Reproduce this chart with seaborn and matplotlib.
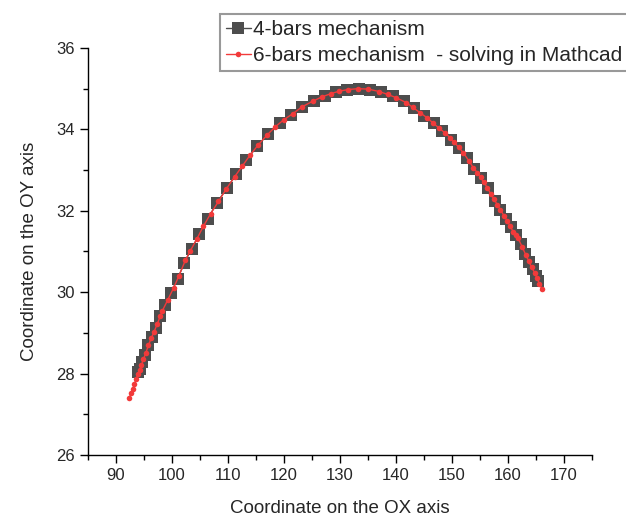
import matplotlib
matplotlib.use("Agg")
import matplotlib.pyplot as plt
from matplotlib.ticker import MultipleLocator
import seaborn as sns
import pandas as pd

# 4-bars mechanism (squares)
x4 = [94.0, 94.3, 94.7, 95.2, 95.8, 96.4, 97.1, 97.9, 98.8, 99.8, 101.0, 102.2,
      103.5, 104.9, 106.4, 108.0, 109.8, 111.5, 113.3, 115.2, 117.2, 119.2, 121.2,
      123.2, 125.3, 127.3, 129.3, 131.3, 133.4, 135.4, 137.4, 139.4, 141.4, 143.2,
      145.0, 146.7, 148.3, 149.9, 151.3, 152.7, 154.0, 155.2, 156.4, 157.6, 158.6,
      159.6, 160.5, 161.4, 162.3, 163.1, 163.8, 164.4, 165.0, 165.4]
y4 = [28.03, 28.12, 28.28, 28.46, 28.70, 28.90, 29.13, 29.41, 29.69, 29.99, 30.33, 30.72,
      31.07, 31.43, 31.81, 32.19, 32.56, 32.90, 33.24, 33.59, 33.89, 34.15, 34.35,
      34.55, 34.70, 34.83, 34.92, 34.98, 35.0, 34.98, 34.91, 34.81, 34.69, 34.52,
      34.34, 34.15, 33.96, 33.75, 33.54, 33.29, 33.03, 32.80, 32.55, 32.25, 32.03,
      31.81, 31.59, 31.41, 31.18, 30.94, 30.74, 30.56, 30.40, 30.28]

# 6-bars mechanism - solving in Mathcad (red dots)
x6 = [92.4, 92.7, 93.0, 93.3, 93.6, 93.9, 94.2, 94.5, 94.9, 95.3, 95.8, 96.3, 96.8,
      97.4, 97.9, 98.3, 99.2, 100.3, 101.2, 102.4, 103.2, 104.4, 105.6, 106.9, 108.3,
      109.7, 111.2, 112.5, 113.9, 115.4, 116.9, 118.4, 120.0, 121.6, 123.3, 125.1,
      126.8, 128.4, 129.9, 131.5, 133.2, 135.0, 137.0, 138.5, 140.0, 141.8, 143.0,
      144.3, 145.5, 146.6, 147.7, 148.8, 149.6, 150.4, 151.2, 152.0, 153.0, 153.8,
      154.5, 155.1, 155.7, 156.3, 156.9, 157.5, 158.1, 158.6, 159.3, 159.9, 160.4,
      160.9, 161.4, 161.8, 162.5, 163.2, 163.7, 164.2, 164.8, 165.2, 165.6, 166.0]
y6 = [27.41, 27.52, 27.63, 27.75, 27.87, 27.98, 28.08, 28.2, 28.35, 28.5, 28.70, 28.87,
      29.03, 29.23, 29.41, 29.55, 29.80, 30.11, 30.39, 30.79, 31.0, 31.30, 31.62, 31.93,
      32.23, 32.54, 32.84, 33.09, 33.36, 33.62, 33.85, 34.06, 34.24, 34.39, 34.56,
      34.69, 34.80, 34.88, 34.94, 34.98, 35.0, 34.99, 34.93, 34.86, 34.78, 34.66,
      34.54, 34.41, 34.29, 34.16, 34.03, 33.91, 33.80, 33.68, 33.56, 33.43, 33.23,
      33.06, 32.94, 32.82, 32.70, 32.57, 32.42, 32.28, 32.15, 32.03, 31.88, 31.74,
      31.62, 31.49, 31.41, 31.33, 31.12, 30.91, 30.77, 30.62, 30.47, 30.34, 30.21, 30.09]

label4 = "4-bars mechanism"
label6 = "6-bars mechanism  - solving in Mathcad"

sns.set_style("ticks")
plt.rcParams["font.family"] = ["Liberation Sans", "DejaVu Sans"]

fig = plt.figure(figsize=(6.26, 5.16), dpi=100)
ax = fig.add_axes([0.1406, 0.1182, 0.8051, 0.7888])

df4 = pd.DataFrame({"x": x4, "y": y4})
df6 = pd.DataFrame({"x": x6, "y": y6})

sns.lineplot(data=df4, x="x", y="y", sort=False, ax=ax, color="#4d4d4d",
             marker="s", markersize=8.5, markeredgewidth=0, linewidth=1.0,
             label=label4)
sns.lineplot(data=df6, x="x", y="y", sort=False, ax=ax, color="#f23a3a",
             marker="o", markersize=4, markeredgewidth=0, linewidth=1.0,
             label=label6)

ax.set_xlim(85, 175)
ax.set_ylim(26, 36)
ax.xaxis.set_minor_locator(MultipleLocator(5))
ax.yaxis.set_major_locator(MultipleLocator(2))
ax.yaxis.set_minor_locator(MultipleLocator(1))
ax.set_xticks(range(90, 171, 10))
ax.tick_params(which="major", direction="out", length=6, width=1, labelsize=12, color="black")
ax.tick_params(which="minor", direction="out", length=3.5, width=1, color="black")
for s in ["top", "right"]:
    ax.spines[s].set_visible(False)
for s in ["left", "bottom"]:
    ax.spines[s].set_color("black")
    ax.spines[s].set_linewidth(1)

ax.set_xlabel("Coordinate on the OX axis", fontsize=13.5, labelpad=12)
ax.set_ylabel("Coordinate on the OY axis", fontsize=13.5, labelpad=13)

leg = ax.legend(loc="upper left", bbox_to_anchor=(0.351, 0.973),
                bbox_transform=fig.transFigure, fontsize=15, frameon=True,
                fancybox=False, borderaxespad=0, handlelength=1.2,
                handletextpad=0.12, borderpad=0.3, labelspacing=0.33)
leg.get_frame().set_edgecolor("#999999")
leg.get_frame().set_linewidth(1.5)
leg.get_frame().set_alpha(1)

fig.savefig("out.png", dpi=100)
